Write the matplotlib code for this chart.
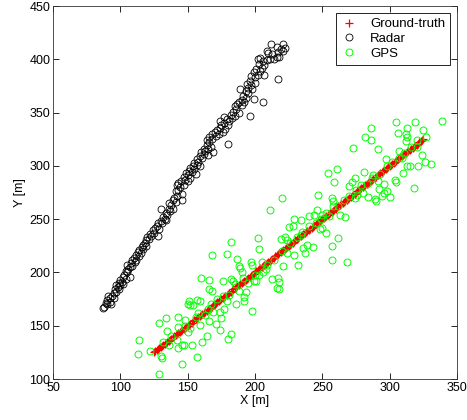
import matplotlib
matplotlib.use('Agg')
import matplotlib.pyplot as plt

plt.rcParams['font.family'] = ['Liberation Sans', 'DejaVu Sans']

# ground-truth track (red +)
gt_x = [125, 126, 127, 128, 129, 130, 131, 132, 133, 134, 135, 136, 137, 138, 139, 140, 141, 142, 143, 144,
        145, 146, 147, 148, 149, 150, 151, 152, 153, 154, 155, 156, 157, 158, 159, 160, 161, 162, 163, 164,
        165, 166, 167, 168, 169, 170, 171, 172, 173, 174, 175, 176, 177, 178, 179, 180, 181, 182, 183, 184,
        185, 186, 187, 188, 189, 190, 191, 192, 193, 194, 195, 196, 197, 198, 199, 200, 201, 202, 203, 204,
        205, 206, 207, 208, 209, 210, 211, 212, 213, 214, 215, 216, 217, 218, 219, 220, 221, 222, 223, 224,
        225, 226, 227, 228, 229, 230, 231, 232, 233, 234, 235, 236, 237, 238, 239, 240, 241, 242, 243, 244,
        245, 246, 247, 248, 249, 250, 251, 252, 253, 254, 255, 256, 257, 258, 259, 260, 261, 262, 263, 264,
        265, 266, 267, 268, 269, 270, 271, 272, 273, 274, 275, 276, 277, 278, 279, 280, 281, 282, 283, 284,
        285, 286, 287, 288, 289, 290, 291, 292, 293, 294, 295, 296, 297, 298, 299, 300, 301, 302, 303, 304,
        305, 306, 307, 308, 309, 310, 311, 312, 313, 314, 315, 316, 317, 318, 319, 320, 321, 322, 323, 324, 325]
gt_y = gt_x  # the true path lies on y = x

# radar measurements (black o)
radar = [
    (87, 167), (88, 168), (89, 171), (90, 170), (90, 174), (91, 178), (92, 172), (92, 176), (93, 170),
    (94, 178), (95, 181), (95, 176), (96, 184), (97, 182), (97, 188), (98, 186), (99, 184), (99, 190),
    (100, 188), (100, 193), (101, 191), (102, 196), (102, 189),
    (103, 198), (104, 194), (104, 201), (105, 207), (105, 200), (106, 203), (107, 196), (107, 205),
    (108, 209), (109, 206), (109, 212), (110, 214), (111, 210), (112, 216), (112, 212), (113, 219),
    (114, 215), (114, 221), (115, 218), (116, 224), (117, 222), (117, 226), (118, 228), (119, 225),
    (119, 230), (120, 233),
    (121, 231), (122, 236), (123, 234), (124, 240), (125, 237), (126, 242), (127, 244), (128, 234),
    (128, 246), (129, 241), (130, 260), (130, 248), (131, 246), (132, 252), (133, 250), (134, 256),
    (134, 249), (135, 254), (136, 260), (136, 265), (137, 258), (138, 263), (139, 268), (139, 260),
    (140, 270), (141, 266), (141, 276), (142, 272), (142, 282),
    (143, 284), (143, 277), (144, 280), (145, 286), (146, 274), (146, 268), (147, 282), (147, 290),
    (148, 287), (149, 293), (150, 286), (150, 291), (151, 295), (152, 289), (152, 298), (153, 294),
    (154, 300), (155, 303), (155, 297), (156, 292), (157, 301), (157, 306), (158, 304), (159, 309),
    (159, 300), (160, 313), (161, 307), (162, 311), (162, 316), (163, 314), (164, 320),
    (164, 324), (165, 316), (165, 310), (166, 322), (166, 327), (167, 318), (168, 325), (168, 330),
    (169, 313), (170, 332), (171, 328), (172, 334), (173, 330), (174, 342), (174, 336), (175, 338),
    (176, 332), (177, 340), (177, 346), (178, 335), (179, 344), (180, 321), (180, 338), (181, 342),
    (182, 348), (183, 345), (184, 351),
    (185, 347), (185, 356), (186, 353), (187, 358), (188, 350), (188, 360), (189, 372), (190, 362),
    (190, 357), (191, 366), (192, 360), (193, 370), (193, 364), (194, 377), (195, 373), (195, 368),
    (196, 347), (196, 380), (197, 376), (197, 384), (198, 372), (199, 388), (199, 363), (200, 378),
    (200, 383), (201, 391), (202, 385),
    (203, 396), (202, 400), (204, 401), (204, 389), (205, 392), (206, 360), (206, 398), (207, 395),
    (207, 385), (209, 408), (209, 399), (210, 406), (211, 400), (212, 414), (213, 405), (214, 400),
    (216, 402), (216, 412), (217, 382), (217, 407), (218, 402), (219, 410), (221, 414), (221, 408),
    (222, 411),
]

# GPS measurements (green o)
gps = [
    (113, 123), (114, 137), (122, 126), (129, 105), (129, 153), (130, 122), (131, 120), (132, 135),
    (134, 157), (135, 145), (136, 132), (143, 158), (143, 129), (143, 149), (146, 132), (147, 132),
    (146, 114), (148, 155), (150, 144), (150, 170), (151, 173), (152, 169), (153, 132), (154, 169),
    (157, 121), (157, 174), (159, 173), (156, 158), (159, 151), (160, 195), (161, 135), (164, 140),
    (165, 166), (166, 184), (166, 193), (166, 154), (168, 216), (168, 183), (169, 163), (171, 152),
    (174, 146), (174, 163), (175, 157), (176, 192), (177, 166), (179, 217), (179, 173), (180, 138),
    (182, 142), (182, 194), (182, 229), (184, 192), (186, 170), (187, 213), (188, 206), (188, 183),
    (189, 204), (190, 200), (192, 177), (193, 182), (192, 173), (197, 210), (198, 207), (198, 164),
    (199, 192), (201, 192), (202, 232), (203, 222), (203, 198), (206, 200), (208, 203), (211, 259),
    (213, 194), (216, 185), (217, 195), (218, 184), (218, 191), (219, 231), (220, 270), (221, 206),
    (222, 233), (224, 218), (224, 230), (225, 243), (228, 244), (229, 250), (229, 216), (232, 207),
    (234, 235), (234, 249), (236, 223), (237, 218), (239, 226), (240, 253), (243, 224), (244, 254),
    (247, 273), (246, 259), (248, 241), (250, 254), (250, 242), (253, 237), (254, 293), (255, 253),
    (257, 225), (257, 212), (257, 270), (258, 267), (259, 285), (261, 297), (262, 232), (263, 254),
    (267, 252), (268, 210), (270, 281), (272, 285), (273, 317), (274, 289), (274, 270), (276, 273),
    (280, 275), (281, 294), (282, 327), (284, 271), (286, 324), (286, 336), (288, 291), (289, 269),
    (290, 267), (291, 316), (291, 286), (292, 278), (294, 272), (296, 275), (296, 283), (297, 306),
    (298, 276), (300, 271), (304, 287), (305, 285), (305, 341), (306, 331), (307, 314), (309, 307),
    (310, 293), (312, 330), (312, 323), (313, 336), (313, 327), (313, 300), (315, 300), (318, 279),
    (319, 341), (320, 324), (321, 300), (324, 310), (325, 334), (326, 304), (327, 327), (331, 302),
    (339, 342),
    # circles lying under the red track
    (138, 140), (142, 137), (148, 150), (152, 148), (158, 162), (163, 160), (167, 170), (172, 175),
    (176, 178), (181, 179), (185, 189), (191, 195), (195, 190), (200, 198), (205, 210), (209, 207),
    (214, 212), (220, 220), (226, 228), (231, 233), (235, 238), (240, 244), (245, 246), (249, 250),
    (253, 256), (258, 262), (262, 262), (266, 268), (270, 272), (275, 277), (279, 282), (283, 283),
    (287, 289), (293, 292), (298, 300), (302, 304), (307, 307), (311, 312), (316, 318), (320, 318),
]

radar_x = [p[0] for p in radar]
radar_y = [p[1] for p in radar]
gps_x = [p[0] for p in gps]
gps_y = [p[1] for p in gps]


def make_plot():
    fig = plt.figure(figsize=(4.67, 4.20), dpi=100)
    ax = fig.add_axes([0.1135, 0.0976, 0.865, 0.888])

    ax.plot(gt_x, gt_y, '+', color='#ff0000', markersize=6, markeredgewidth=0.9,
            label='Ground-truth')
    ax.plot(radar_x, radar_y, 'o', markerfacecolor='none', markeredgecolor='black',
            markersize=5, markeredgewidth=0.6, label='Radar')
    ax.plot(gps_x, gps_y, 'o', markerfacecolor='none', markeredgecolor='#00ff00',
            markersize=5, markeredgewidth=0.7, label='GPS')

    ax.set_xlim(50, 350)
    ax.set_ylim(100, 450)
    ax.set_xticks(range(50, 351, 50))
    ax.set_yticks(range(100, 451, 50))
    ax.tick_params(direction='in', top=True, right=True, length=4, width=0.6,
                   labelsize=9, pad=2)
    for s in ax.spines.values():
        s.set_linewidth(0.6)
        s.set_color('#333333')
    ax.set_xlabel('X [m]', fontsize=9, labelpad=1)
    ax.set_ylabel('Y [m]', fontsize=9, labelpad=2)

    leg = ax.legend(loc='upper right', fontsize=9.5, fancybox=False, framealpha=1,
                    edgecolor='black', numpoints=1, handlelength=1.2,
                    borderaxespad=0.5, labelspacing=0.2, handletextpad=1.0)
    leg.get_frame().set_linewidth(0.6)

    fig.savefig('out.png', dpi=100)


if __name__ == "__main__":
    make_plot()
